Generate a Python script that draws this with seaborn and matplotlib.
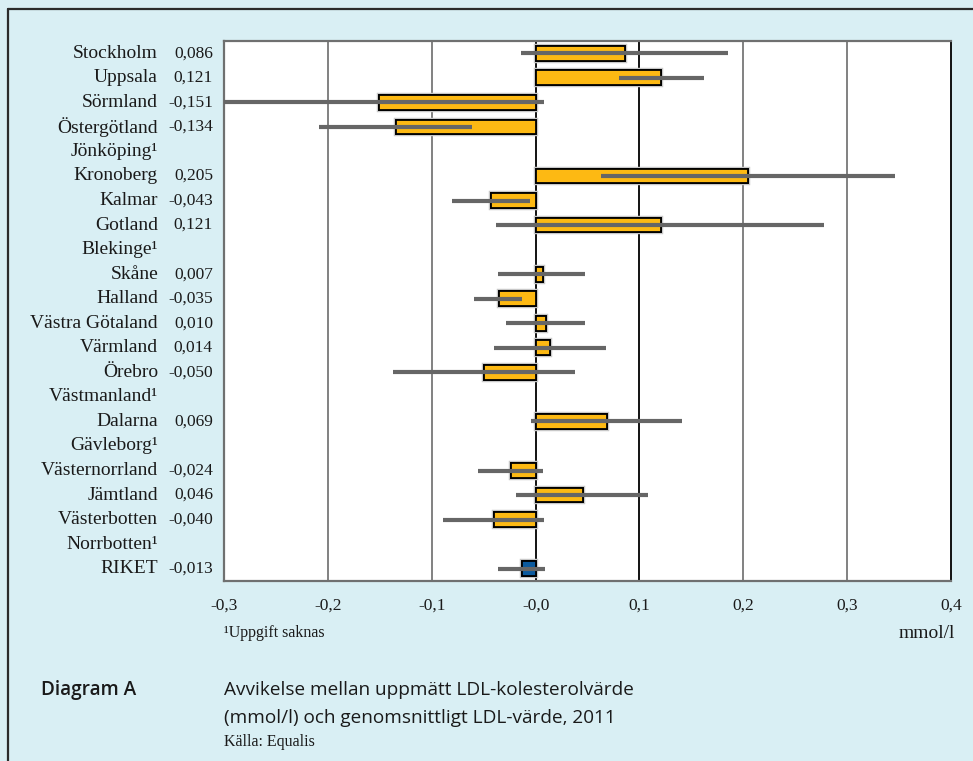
import matplotlib
matplotlib.use("Agg")
import matplotlib.pyplot as plt
import matplotlib.patheffects as pe
import numpy as np
import pandas as pd
import seaborn as sns

# Counties and deviations (mmol/l); None = no data reported
regions = ["Stockholm", "Uppsala", "Sörmland", "Östergötland", "Jönköping¹",
           "Kronoberg", "Kalmar", "Gotland", "Blekinge¹", "Skåne", "Halland",
           "Västra Götaland", "Värmland", "Örebro", "Västmanland¹", "Dalarna",
           "Gävleborg¹", "Västernorrland", "Jämtland", "Västerbotten",
           "Norrbotten¹", "RIKET"]
deviation = [0.086, 0.121, -0.151, -0.134, None, 0.205, -0.043, 0.121, None,
             0.007, -0.035, 0.010, 0.014, -0.050, None, 0.069, None, -0.024,
             0.046, -0.040, None, -0.013]
ci_low = [-0.014, 0.080, -0.32, -0.209, None, 0.063, -0.080, -0.038, None,
          -0.036, -0.059, -0.028, -0.040, -0.137, None, -0.004, None, -0.055,
          -0.019, -0.089, None, -0.036]
ci_high = [0.185, 0.162, 0.008, -0.061, None, 0.346, -0.005, 0.278, None,
           0.048, -0.013, 0.048, 0.068, 0.038, None, 0.141, None, 0.007,
           0.108, 0.008, None, 0.009]
x_ticks = [-0.3, -0.2, -0.1, 0.0, 0.1, 0.2, 0.3, 0.4]
x_tick_labels = ["-0,3", "-0,2", "-0,1", "-0,0", "0,1", "0,2", "0,3", "0,4"]

BG = "#d9eff4"
YELLOW = "#fdb913"
BLUE = "#0b5a9e"
GREY = "#666666"
INK = "#1a1a1a"
SERIF = ["Liberation Serif", "DejaVu Serif"]
SANS = ["Open Sans", "DejaVu Sans"]

df = pd.DataFrame({"region": regions,
                   "deviation": pd.array(deviation, dtype="Float64").astype(float),
                   "low": pd.array(ci_low, dtype="Float64").astype(float),
                   "high": pd.array(ci_high, dtype="Float64").astype(float)})
palette = {r: (BLUE if r == "RIKET" else YELLOW) for r in regions}

sns.set_theme(style="white")
plt.rcParams["font.family"] = SERIF

W, H = 973, 761
fig = plt.figure(figsize=(W / 100, H / 100), dpi=100, facecolor=BG)

# outer frame line (left and top)
fig.add_artist(plt.Line2D([8 / W, 8 / W], [0, 1 - 9 / H], transform=fig.transFigure,
                          color="#2b2b2b", lw=1.6))
fig.add_artist(plt.Line2D([8 / W, 1], [1 - 9 / H, 1 - 9 / H], transform=fig.transFigure,
                          color="#2b2b2b", lw=1.6))

left, right, top, bottom = 224, 951, 41, 581
ax = fig.add_axes([left / W, 1 - bottom / H, (right - left) / W, (bottom - top) / H])
ax.set_facecolor("white")

sns.barplot(data=df, x="deviation", y="region", hue="region", order=regions,
            hue_order=regions, palette=palette, orient="h", width=0.6,
            edgecolor="black", linewidth=1.3, legend=False, ax=ax, zorder=3,
            saturation=1)
for p in ax.patches:
    p.set_path_effects([pe.withStroke(linewidth=3.2, foreground="#c8c8c8"), pe.Normal()])

# confidence intervals
ypos = np.arange(len(regions))
mask = df["low"].notna().to_numpy()
ax.hlines(ypos[mask], df["low"][mask], df["high"][mask], color=GREY, lw=3.0,
          zorder=4, capstyle="butt")

ax.set_xlim(-0.3, 0.4)
ax.set_ylim(len(regions) - 0.5, -0.5)
ax.set_xticks(x_ticks)
ax.set_xticklabels(x_tick_labels, fontsize=12.5, color=INK)
ax.tick_params(axis="x", length=0, pad=12)
ax.set_yticks([])
ax.set_xlabel("")
ax.set_ylabel("")
for xv in x_ticks[1:-1]:
    ax.axvline(xv, color="black" if xv in (0.0, 0.1) else "#777777", lw=1.3, zorder=1)

for side in ["top", "left", "bottom"]:
    ax.spines[side].set_color("#6f7070")
    ax.spines[side].set_linewidth(1.6)
ax.spines["right"].set_color("black")
ax.spines["right"].set_linewidth(1.3)

# row labels: region name and value
for i, (name, val) in enumerate(zip(regions, deviation)):
    ax.annotate(name, xy=(0, i), xycoords=("axes fraction", "data"),
                xytext=(-66, 0), textcoords="offset pixels",
                ha="right", va="center", fontsize=14, color=INK)
    if val is not None:
        ax.annotate(f"{val:.3f}".replace(".", ","), xy=(0, i),
                    xycoords=("axes fraction", "data"), xytext=(-11, 0),
                    textcoords="offset pixels", ha="right", va="center",
                    fontsize=12.5, color=INK)

# footnote and unit
fig.text(left / W, 1 - 633 / H, "¹Uppgift saknas", ha="left", va="center",
         fontsize=11.5, color=INK)
fig.text(955 / W, 1 - 633 / H, "mmol/l", ha="right", va="center",
         fontsize=14, color=INK)

# caption
fig.text(41 / W, 1 - 690 / H, "Diagram A", ha="left", va="center",
         fontsize=13.7, fontweight="semibold", family=SANS, color=INK)
fig.text(224 / W, 1 - 690 / H, "Avvikelse mellan uppmätt LDL-kolesterolvärde",
         ha="left", va="center", fontsize=13.7, family=SANS, color=INK)
fig.text(224 / W, 1 - 718 / H, "(mmol/l) och genomsnittligt LDL-värde, 2011",
         ha="left", va="center", fontsize=13.7, family=SANS, color=INK)
fig.text(224 / W, 1 - 742 / H, "Källa: Equalis", ha="left", va="center",
         fontsize=11.5, color=INK)

fig.savefig("out.png", dpi=100, facecolor=BG)
